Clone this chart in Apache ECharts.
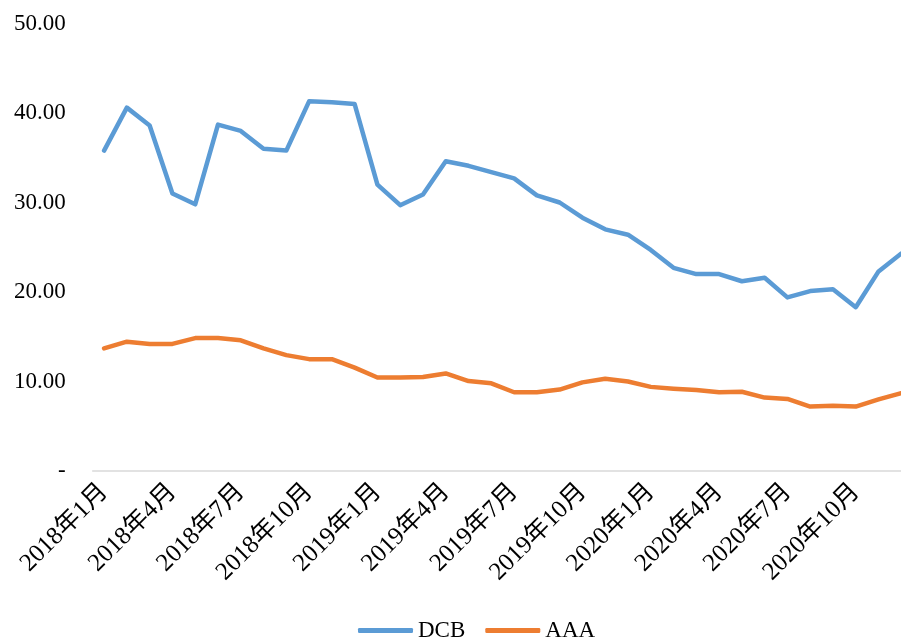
<!DOCTYPE html>
<html>
<head>
<meta charset="utf-8">
<script src="https://cdn.jsdelivr.net/npm/echarts@6/dist/echarts.min.js"></script>
<style>
  html, body { margin: 0; padding: 0; background: #fff; }
  #chart { width: 901px; height: 639px; }
</style>
</head>
<body>
<div id="chart"></div>
<script>
// months 2018-01 .. 2020-12
var months = [];
for (var y = 2018; y <= 2020; y++) {
    for (var m = 1; m <= 12; m++) {
        months.push(y + '年' + m + '月');
    }
}

var dcb = [35.8, 40.6, 38.6, 31.0, 29.8, 38.7, 38.0, 36.0, 35.8, 41.3, 41.2, 41.0,
           32.0, 29.7, 30.9, 34.6, 34.1, 33.4, 32.7, 30.8, 30.0, 28.3, 27.0, 26.4,
           24.7, 22.7, 22.0, 22.0, 21.2, 21.6, 19.4, 20.1, 20.3, 18.3, 22.3, 24.3];

var aaa = [13.7, 14.45, 14.2, 14.2, 14.85, 14.85, 14.6, 13.7, 12.95, 12.5, 12.5, 11.55,
           10.45, 10.45, 10.5, 10.9, 10.05, 9.8, 8.8, 8.8, 9.1, 9.9, 10.3, 10.0,
           9.4, 9.2, 9.05, 8.8, 8.85, 8.2, 8.05, 7.2, 7.3, 7.2, 8.0, 8.7];

var yTicks = [0, 10, 20, 30, 40, 50];

var font = '"Liberation Serif", "Times New Roman", "Noto Sans CJK SC", serif';

var myChart = echarts.init(document.getElementById('chart'));

var option = {
    backgroundColor: '#fff',
    animation: false,
    textStyle: { fontFamily: font },
    grid: {
        left: 92.7,
        top: 23.5,
        width: 820,
        bottom: 168,
        outerBoundsMode: 'none',
        containLabel: false
    },
    legend: {
        left: 353,
        top: 614,
        icon: 'roundRect',
        itemWidth: 55,
        itemHeight: 5,
        itemGap: 20,
        textStyle: { fontFamily: font, fontSize: 23, color: '#000' },
        data: ['DCB', 'AAA']
    },
    xAxis: {
        type: 'category',
        data: months,
        boundaryGap: true,
        axisLine: { lineStyle: { color: '#d9d9d9', width: 1.5 } },
        axisTick: { interval: 2, length: 5, lineStyle: { color: '#d9d9d9', width: 1.5 } },
        axisLabel: {
            interval: 2,
            rotate: 45,
            margin: 17,
            fontFamily: font,
            fontSize: 25,
            color: '#000'
        },
        splitLine: { show: false }
    },
    yAxis: {
        type: 'value',
        min: yTicks[0],
        max: yTicks[yTicks.length - 1],
        interval: 10,
        axisLine: { show: false },
        axisTick: { show: false },
        splitLine: { show: false },
        axisLabel: {
            margin: 27,
            fontFamily: font,
            fontSize: 23,
            color: '#000',
            formatter: function (v) {
                return v === 0 ? '-' : v.toFixed(2);
            }
        }
    },
    series: [
        {
            name: 'DCB',
            type: 'line',
            data: dcb,
            symbol: 'none',
            color: '#5b9bd5',
            lineStyle: { width: 4.5, cap: 'round', join: 'round' }
        },
        {
            name: 'AAA',
            type: 'line',
            data: aaa,
            symbol: 'none',
            color: '#ed7d31',
            lineStyle: { width: 4.5, cap: 'round', join: 'round' }
        }
    ]
};
myChart.setOption(option);
</script>
</body>
</html>
